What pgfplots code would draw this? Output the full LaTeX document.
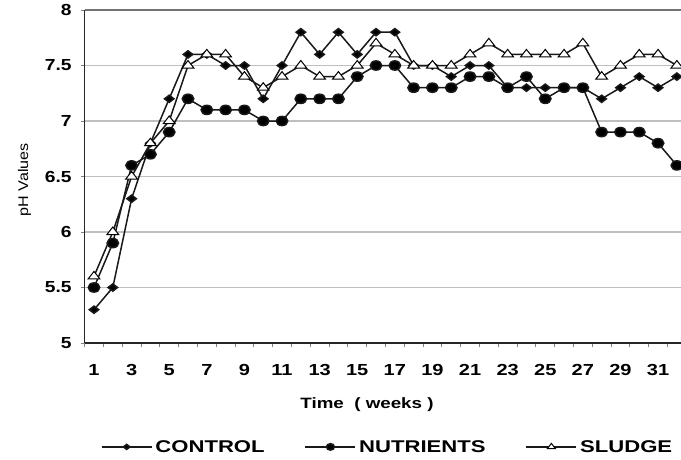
\documentclass[border=0pt]{standalone}
\usepackage{pgfplots}
\pgfplotsset{compat=1.18}
\usepackage{fontspec}
\setmainfont{Liberation Sans}
\pgfplotstableread{
w C N S
1 5.3 5.5 5.6
2 5.5 5.9 6.0
3 6.3 6.6 6.5
4 6.8 6.7 6.8
5 7.2 6.9 7.0
6 7.6 7.2 7.5
7 7.6 7.1 7.6
8 7.5 7.1 7.6
9 7.5 7.1 7.4
10 7.2 7.0 7.3
11 7.5 7.0 7.4
12 7.8 7.2 7.5
13 7.6 7.2 7.4
14 7.8 7.2 7.4
15 7.6 7.4 7.5
16 7.8 7.5 7.7
17 7.8 7.5 7.6
18 7.5 7.3 7.5
19 7.5 7.3 7.5
20 7.4 7.3 7.5
21 7.5 7.4 7.6
22 7.5 7.4 7.7
23 7.3 7.3 7.6
24 7.3 7.4 7.6
25 7.3 7.2 7.6
26 7.3 7.3 7.6
27 7.3 7.3 7.7
28 7.2 6.9 7.4
29 7.3 6.9 7.5
30 7.4 6.9 7.6
31 7.3 6.8 7.6
32 7.4 6.6 7.5
}\data
\begin{document}
\begin{tikzpicture}
\useasboundingbox (-84.6bp,-117bp) rectangle (596.4bp,343bp);
\begin{axis}[
 at={(0,0)}, anchor=south west, scale only axis,
 width=596.4bp, height=333bp,
 xmin=0.5, xmax=32.22, ymin=5, ymax=8,
 clip=false,
 axis x line*=bottom, axis y line*=left,
 axis line style={black!85, line width=1.6bp},
 tick align=outside, major tick length=4bp,
 tick style={black!50, line width=1bp},
 xtick={0.5,1.5,...,32.5}, xticklabels={},
 extra x ticks={1,3,5,7,9,11,13,15,17,19,21,23,25,27,29,31},
 extra x tick labels={1,3,5,7,9,11,13,15,17,19,21,23,25,27,29,31},
 extra x tick style={tick style={draw=none}, grid=none,
   xticklabel style={font=\fontsize{16bp}{16bp}\selectfont\bfseries, xscale=1.25, yshift=-14bp}},
 ytick={5,5.5,6,6.5,7,7.5,8}, yticklabels={5,5.5,6,6.5,7,7.5,8},
 yticklabel style={font=\fontsize{16bp}{16bp}\selectfont\bfseries, xscale=1.2, xshift=-4bp},
 ymajorgrids, grid style={black!25, line width=1.2bp},
 extra y ticks={8}, extra y tick labels={},
 extra y tick style={grid style={black!55, line width=2bp}, tick style={draw=none}},
 xlabel={\scalebox{1.25}[1]{Time\ \ ( weeks )}},
 xlabel style={font=\fontsize{15bp}{15bp}\selectfont\bfseries, at={(axis description cs:0.4735,-0.186)}, anchor=center},
 ylabel={pH Values},
 ylabel style={font=\fontsize{14bp}{14bp}\selectfont, at={(axis description cs:-0.1006,0.49)}, anchor=center, xscale=1.15},
 legend columns=3,
 legend style={at={(0.508,-0.312)}, anchor=center, draw=none, fill=none,
   font=\fontsize{17bp}{17bp}\selectfont\bfseries,
   /tikz/every odd column/.append style={column sep=1bp},
   /tikz/every even column/.append style={column sep=38bp}},
 legend image code/.code={\draw[mark repeat=2,mark phase=2, every mark/.append style={scale=0.7}] plot coordinates {(0bp,0bp) (25bp,0bp) (50bp,0bp)};},
]
\addplot[black!90, line width=1.5bp, mark=diamond*, mark size=3.6bp, mark options={xscale=1.75, fill=black, solid}] table[x=w,y=C] {\data};
\addlegendentry{\scalebox{1.3}[1]{CONTROL}}
\addplot[black!90, line width=1.5bp, mark=*, mark size=4.6bp, mark options={xscale=1.25, fill=black, solid}] table[x=w,y=N] {\data};
\addlegendentry{\scalebox{1.3}[1]{NUTRIENTS}}
\addplot[black!90, line width=1.5bp, mark=triangle*, mark size=5bp, mark options={xscale=1.35, fill=white, draw=black, line width=1bp, solid}] table[x=w,y=S] {\data};
\addlegendentry{\scalebox{1.3}[1]{SLUDGE}}
\end{axis}
\end{tikzpicture}
\end{document}
